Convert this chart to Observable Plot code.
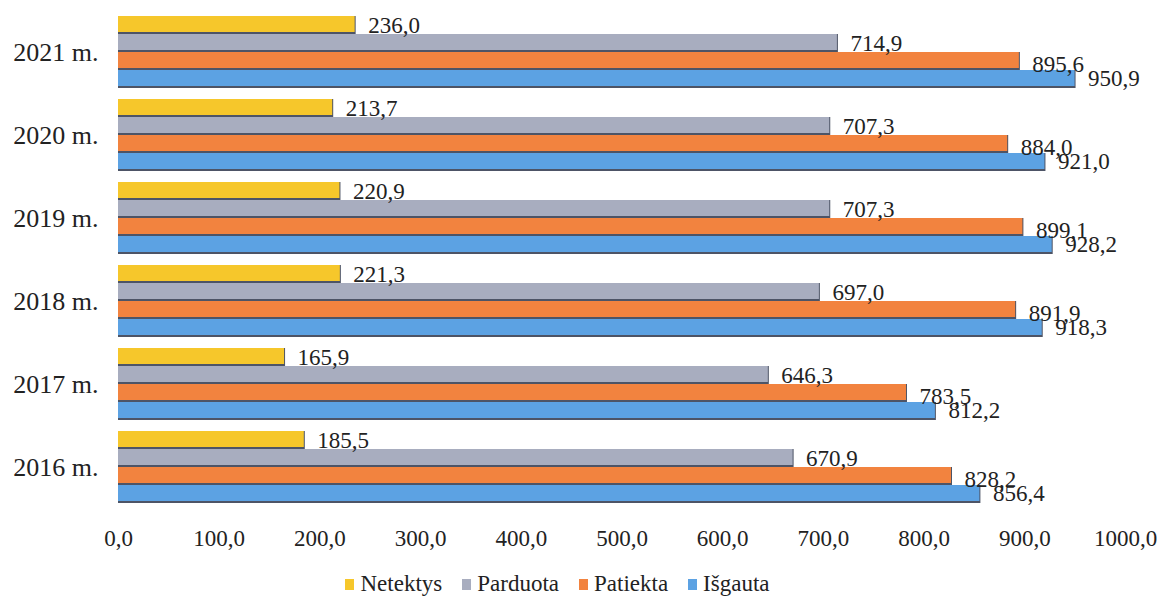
<!DOCTYPE html>
<html>
<head>
<meta charset="utf-8">
<script src="https://cdn.jsdelivr.net/npm/d3@7"></script>
<script src="https://cdn.jsdelivr.net/npm/@observablehq/plot@0.6"></script>
<style>
  body { margin: 0; background: #fff; font-family: "Liberation Serif", "Times New Roman", Tinos, "DejaVu Serif", serif; }
  #chart svg { display: block; }
  #chart svg text { font-family: "Liberation Serif", "Times New Roman", Tinos, "DejaVu Serif", serif; }
  .legend { display: flex; justify-content: center; align-items: center; gap: 20px; font-size: 23px; color: #222; margin-top: 6px; padding-right: 50px; font-family: "Liberation Serif", "Times New Roman", serif; }
  .legend span.item { display: inline-flex; align-items: center; gap: 6px; }
  .legend span.sw { display: inline-block; width: 9px; height: 11px; }
</style>
</head>
<body>
<div id="chart"></div>
<div class="legend" id="legend"></div>
<script>
const years = ["2021", "2020", "2019", "2018", "2017", "2016"];
const series = ["Netektys", "Parduota", "Patiekta", "Išgauta"];
const colors = ["#F6C72B", "#A8ADBF", "#F2833F", "#5CA2E3"];
const netektys = [236.0, 213.7, 220.9, 221.3, 165.9, 185.5];
const parduota = [714.9, 707.3, 707.3, 697.0, 646.3, 670.9];
const patiekta = [895.6, 884.0, 899.1, 891.9, 783.5, 828.2];
const isgauta  = [950.9, 921.0, 928.2, 918.3, 812.2, 856.4];
const xTicks = [0, 100, 200, 300, 400, 500, 600, 700, 800, 900, 1000];

const valuesBySeries = [netektys, parduota, patiekta, isgauta];
const data = [];
years.forEach((yr, i) => {
  series.forEach((s, j) => {
    data.push({ year: yr, series: s, value: valuesBySeries[j][i] });
  });
});

const fmt = v => v.toFixed(1).replace(".", ",");
const serif = "Liberation Serif, Times New Roman, Tinos, DejaVu Serif, serif";

const labelDy = { "Netektys": 0, "Parduota": 0, "Patiekta": 3, "Išgauta": -1 };

const chart = Plot.plot({
  width: 1165,
  height: 565,
  marginLeft: 118,
  marginRight: 40,
  marginTop: 15,
  marginBottom: 61,
  style: { fontFamily: serif, fontSize: "24px", color: "#222", background: "#fff" },
  fy: { domain: years, paddingInner: 0.135, paddingOuter: 0, label: null, tickFormat: d => d + " m.", axis: null },
  y: { domain: series, padding: 0, axis: null },
  x: { domain: [0, 1000], ticks: xTicks, tickFormat: fmt, label: null },
  color: { domain: series, range: colors },
  marks: [
    Plot.axisFy({ anchor: "left", tickSize: 0, tickPadding: 20, fontSize: 26, label: null, tickFormat: d => d + " m." }),
    Plot.axisX({ ticks: xTicks, tickFormat: fmt, tickSize: 0, tickPadding: 26, fontSize: 23, label: null }),
    Plot.barX(data, { fy: "year", y: "series", x: "value", fill: "#4d5466" }),
    Plot.barX(data, { fy: "year", y: "series", x: "value", fill: "series", insetBottom: 2, insetRight: 1 }),
    ...series.map(s => Plot.text(data.filter(d => d.series === s), {
      fy: "year", y: "series", x: "value", text: d => fmt(d.value),
      textAnchor: "start", dx: 12, dy: labelDy[s], fontSize: 23, fontFamily: serif, fill: "#222"
    }))
  ]
});
document.getElementById("chart").appendChild(chart);

const legend = document.getElementById("legend");
series.forEach((s, i) => {
  const item = document.createElement("span");
  item.className = "item";
  const sw = document.createElement("span");
  sw.className = "sw";
  sw.style.background = colors[i];
  item.appendChild(sw);
  item.appendChild(document.createTextNode(s));
  legend.appendChild(item);
});
</script>
</body>
</html>
